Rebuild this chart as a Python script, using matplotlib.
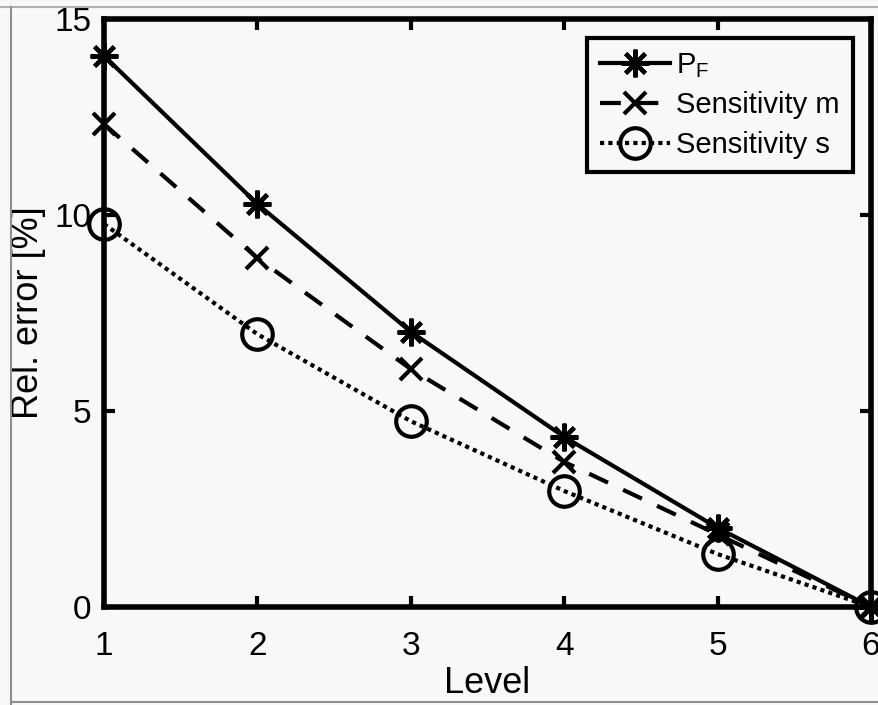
import matplotlib
matplotlib.use("Agg")
import matplotlib.pyplot as plt
from matplotlib.lines import Line2D

levels = [1, 2, 3, 4, 5, 6]
pf = [14.06, 10.28, 7.02, 4.34, 2.02, 0.0]
sens_m = [12.32, 8.90, 6.07, 3.70, 1.85, 0.0]
sens_s = [9.77, 6.96, 4.74, 2.96, 1.35, 0.0]
xticks = [1, 2, 3, 4, 5, 6]
yticks = [0, 5, 10, 15]

plt.rcParams['font.family'] = ['Liberation Sans', 'DejaVu Sans']
plt.rcParams['mathtext.fontset'] = 'custom'
plt.rcParams['mathtext.rm'] = 'Liberation Sans'
bg = '#f8f8f8'
fig = plt.figure(figsize=(8.79, 7.05), dpi=100, facecolor=bg)
# frame lines around the screenshot
fig.add_artist(Line2D([0, 1], [1 - 7/705, 1 - 7/705], color='#b0b0b0', lw=1.5, transform=fig.transFigure))
fig.add_artist(Line2D([11/879, 11/879], [0, 1 - 7/705], color='#909090', lw=1.5, transform=fig.transFigure))
fig.add_artist(Line2D([11/879, 1], [3/705, 3/705], color='#909090', lw=1.5, transform=fig.transFigure))

ax = fig.add_axes([104/879, 1 - 607/705, (871-104)/879, (607-19)/705])
ax.set_facecolor(bg)

ax.plot(levels, pf, color='black', lw=3, linestyle='-', marker=(8, 2, 0), markersize=20,
        markeredgewidth=3, label=r'P$_{\mathrm{F}}$', clip_on=False, zorder=5)
ax.plot(levels, sens_m, color='black', lw=3, linestyle=(0, (5, 4)), marker='x', markersize=16,
        markeredgewidth=3, label='Sensitivity m', clip_on=False, zorder=4)
ax.plot(levels, sens_s, color='black', lw=3, linestyle=(0, (1, 1)), marker='o', markersize=22,
        markeredgewidth=3, markerfacecolor='none', label='Sensitivity s', clip_on=False, zorder=3)

ax.set_xlim(1, 6)
ax.set_ylim(0, 15)
ax.set_xticks(xticks)
ax.set_yticks(yticks)
ax.tick_params(direction='in', length=8, width=3, labelsize=24, top=True, right=True, pad=17)
ax.tick_params(axis='y', pad=9)
for s in ax.spines.values():
    s.set_linewidth(4)
ax.set_xlabel('Level', fontsize=26, labelpad=3)
ax.set_ylabel('Rel. error [%]', fontsize=26, labelpad=6)

leg = ax.legend(loc='upper right', fontsize=21, handlelength=2.4, handletextpad=0.2,
                borderpad=0.45, labelspacing=0.4, fancybox=False, framealpha=1,
                edgecolor='black', facecolor=bg, bbox_to_anchor=(0.976, 0.968), borderaxespad=0)
leg.get_frame().set_linewidth(3)

fig.savefig('out.png', dpi=100, facecolor=bg)
